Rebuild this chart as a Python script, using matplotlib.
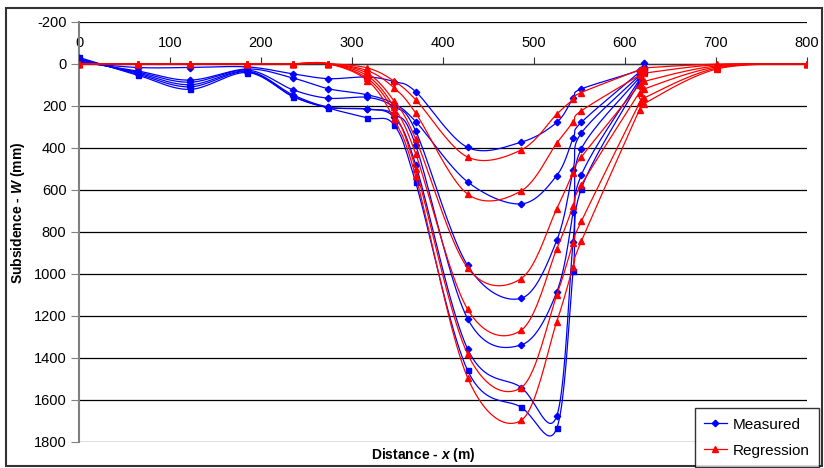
import numpy as np
import matplotlib.pyplot as plt
from matplotlib.lines import Line2D
from matplotlib.patches import Rectangle

plt.rcParams['font.family'] = ['Liberation Sans', 'DejaVu Sans']
plt.rcParams['mathtext.fontset'] = 'custom'
plt.rcParams['mathtext.bfit'] = 'Liberation Sans:italic:bold'
plt.rcParams['mathtext.it'] = 'Liberation Sans:italic'
plt.rcParams['axes.unicode_minus'] = False

# survey points along the line (m)
x_meas = [0, 65, 122, 185, 235, 274, 317, 346, 370, 427, 486, 525, 543, 552, 616, 621]
x_reg = [0, 65, 122, 185, 235, 274, 317, 346, 370, 427, 486, 525, 543, 552, 616, 621, 701, 800]

# measured subsidence (mm)
meas_1 = [-5, 18, 18, 15, 48, 71, 63, 85, 133, 398, 373, 279, 163, 120, 30, -5]
meas_2 = [-10, 35, 78, 25, 68, 119, 148, 190, 275, 562, 667, 532, 355, 279, 40, 15]
meas_3 = [-15, 40, 88, 30, 124, 164, 160, 205, 320, 960, 1116, 841, 505, 330, 55, 20]
meas_4 = [-20, 45, 100, 35, 148, 206, 216, 240, 388, 1213, 1338, 1086, 705, 405, 65, 25]
meas_5 = [-25, 50, 110, 38, 155, 208, 216, 255, 480, 1357, 1541, 1676, 846, 530, 75, 30]
meas_6 = [-30, 55, 122, 42, 156, 211, 258, 290, 565, 1459, 1635, 1735, 986, 595, 85, 38]

# regression subsidence (mm)
reg_1 = [0, 0, 0, 0, 0, 0, 20, 82, 171, 444, 410, 240, 170, 137, 29, 20, 2, 0]
reg_2 = [0, 0, 0, 0, 0, 0, 33, 114, 235, 620, 605, 378, 278, 224, 55, 45, 5, 0]
reg_3 = [0, 0, 0, 0, 0, 0, 46, 176, 358, 971, 1022, 690, 518, 444, 100, 84, 10, 0]
reg_4 = [0, 0, 0, 0, 0, 0, 58, 205, 429, 1168, 1268, 881, 678, 576, 137, 120, 15, 0]
reg_5 = [0, 0, 0, 0, 0, 0, 70, 230, 500, 1381, 1541, 1100, 851, 750, 187, 163, 20, 0]
reg_6 = [0, 0, 0, 0, 0, 0, 80, 262, 536, 1494, 1697, 1227, 965, 845, 219, 190, 25, 0]

measured = [meas_1, meas_2, meas_3, meas_4, meas_5, meas_6]
regression = [reg_1, reg_2, reg_3, reg_4, reg_5, reg_6]


def smooth(x, y, n=20):
    # Catmull-Rom style smoothing, like the spreadsheet "smoothed line"
    p = np.column_stack([x, y]).astype(float)
    p = np.vstack([p[0], p, p[-1]])
    out = []
    t = np.linspace(0, 1, n, endpoint=False)[:, None]
    for i in range(1, len(p) - 2):
        p0, p1, p2, p3 = p[i - 1], p[i], p[i + 1], p[i + 2]
        c1 = p1 + (p2 - p0) / 6
        c2 = p2 - (p3 - p1) / 6
        seg = ((1 - t) ** 3 * p1 + 3 * (1 - t) ** 2 * t * c1
               + 3 * (1 - t) * t ** 2 * c2 + t ** 3 * p2)
        out.append(seg)
    out.append(p[-2][None, :])
    out = np.vstack(out)
    return out[:, 0], out[:, 1]


fig = plt.figure(figsize=(8.24, 4.68), dpi=100)
ax = fig.add_axes([79 / 824, 1 - 442 / 468, 728 / 824, 420.3 / 468])

blue = '#0000FF'
red = '#FF0000'

for i, ys in enumerate(measured):
    sx, sy = smooth(x_meas, ys)
    ax.plot(sx, sy, color=blue, lw=0.9, zorder=3)
    mk = 's' if i == len(measured) - 1 else 'D'
    ax.plot(x_meas, ys, ls='none', marker=mk, ms=3.6 if mk == 's' else 3.3,
            color=blue, zorder=4)

for ys in regression:
    sx, sy = smooth(x_reg, ys)
    ax.plot(sx, sy, color=red, lw=0.9, zorder=5)
    ax.plot(x_reg, ys, ls='none', marker='^', ms=5, color=red, zorder=6)

ax.set_xlim(0, 800)
ax.set_ylim(1800, -200)
ax.set_yticks(np.arange(-200, 1801, 200))
ax.set_xticks(np.arange(0, 801, 100))

ax.yaxis.grid(True, color='black', lw=0.9)
ax.set_axisbelow(True)

ax.spines['top'].set_position(('data', 0))
ax.spines['top'].set_color('#333333')
ax.spines['top'].set_linewidth(0.9)
ax.spines['bottom'].set_visible(False)
ax.spines['right'].set_visible(False)
ax.spines['left'].set_color('#808080')
ax.spines['left'].set_linewidth(1.5)

ax.xaxis.tick_top()
ax.tick_params(axis='x', direction='out', length=5, color='#333333', labelsize=10.5, pad=5)
ax.tick_params(axis='y', direction='out', length=6, color='#808080', labelsize=10.5, pad=3)

ax.set_ylabel(r'Subsidence - $\mathbfit{W}$ (mm)', fontsize=10, fontweight='bold')
ax.yaxis.set_label_coords(-0.0714, 0.545)
fig.text(423 / 824, 1 - 455 / 468, r'Distance - $\mathbfit{x}$ (m)', fontsize=10,
         fontweight='bold', ha='center', va='center')

handles = [Line2D([], [], color=blue, lw=0.9, marker='D', ms=3.3),
           Line2D([], [], color=red, lw=0.9, marker='^', ms=5)]
leg = fig.legend(handles, ['Measured', 'Regression'], loc='lower right',
                 bbox_to_anchor=(819 / 824, 1 / 468), bbox_transform=fig.transFigure,
                 fontsize=11, frameon=True, fancybox=False, handlelength=1.5,
                 labelspacing=0.8, borderpad=0.6, handletextpad=0.4,
                 borderaxespad=0)
leg.get_frame().set_edgecolor('black')
leg.get_frame().set_linewidth(1.0)

fig.patches.append(Rectangle((6 / 824, 2 / 468), 816 / 824, 458 / 468,
                             transform=fig.transFigure, fill=False,
                             edgecolor='#333333', lw=1.5))

fig.savefig('out.png', dpi=100)
